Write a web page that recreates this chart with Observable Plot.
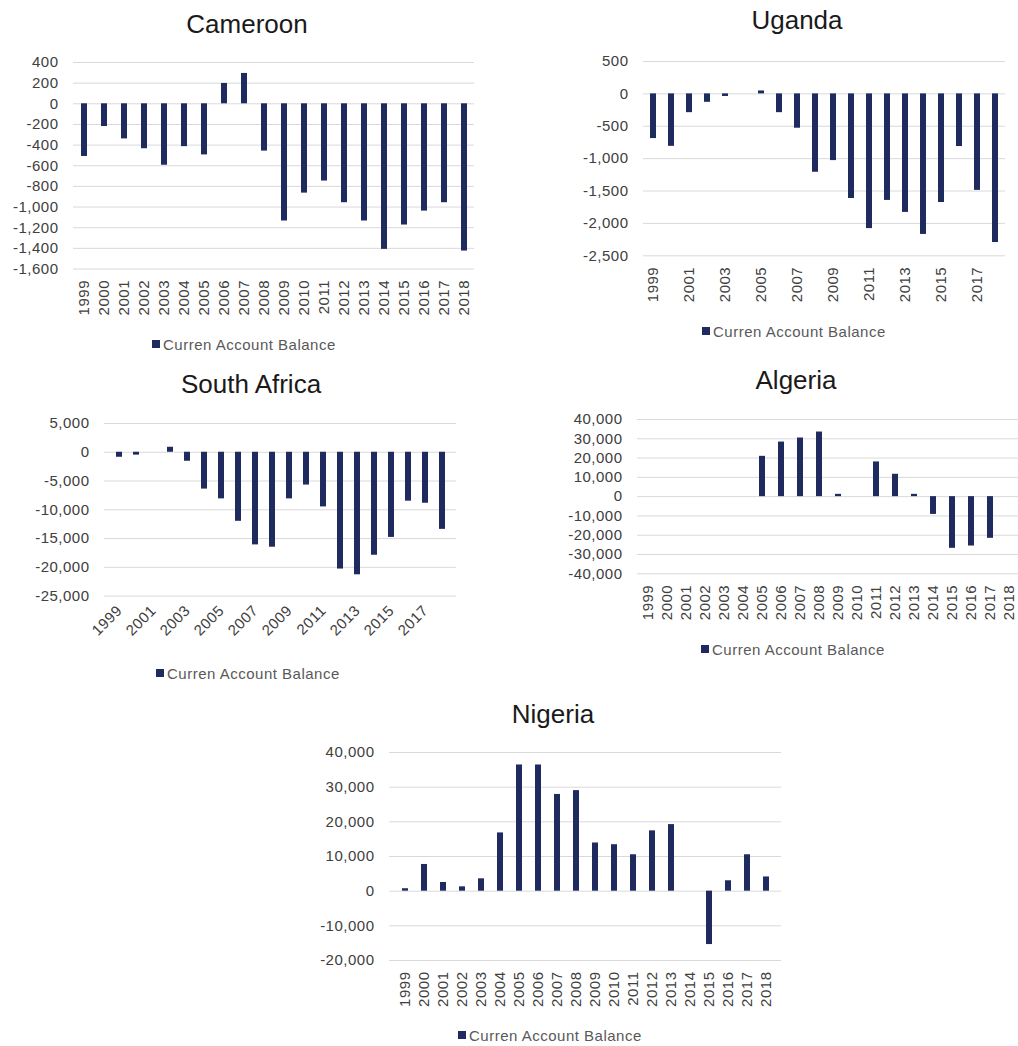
<!DOCTYPE html>
<html><head><meta charset="utf-8">
<script src="https://cdn.jsdelivr.net/npm/d3@7"></script>
<script src="https://cdn.jsdelivr.net/npm/@observablehq/plot@0.6"></script>
<style>
html,body{margin:0;padding:0;background:#fff;}
#root{position:relative;width:1018px;height:1046px;overflow:hidden;background:#fff;font-family:"Liberation Sans",Arial,sans-serif;}
.title{position:absolute;font-size:26px;line-height:26px;color:#1a1a1a;white-space:nowrap;transform:translateX(-50%);}
.legend{position:absolute;display:flex;align-items:center;height:20px;font-size:15px;letter-spacing:0.5px;color:#595959;white-space:nowrap;}
.legend .sw{width:8px;height:8px;background:#1f2a5e;margin-right:3px;}
</style></head><body><div id="root"></div>
<script>
const years = ["1999","2000","2001","2002","2003","2004","2005","2006","2007","2008","2009","2010","2011","2012","2013","2014","2015","2016","2017","2018"];
const oddYears = ["1999","2001","2003","2005","2007","2009","2011","2013","2015","2017"];
const seriesName = "Curren Account Balance";

const cameroon = [-510,-220,-340,-435,-595,-415,-495,197,294,-458,-1135,-865,-748,-958,-1135,-1410,-1174,-1039,-958,-1426];
const uganda = [-690,-810,-290,-130,-40,null,45,-290,-530,-1210,-1030,-1615,-2080,-1645,-1830,-2170,-1677,-813,-1490,-2295];
const southAfrica = [-870,-500,null,870,-1560,-6400,-8100,-12000,-16100,-16500,-8100,-5700,-9500,-20300,-21300,-17900,-14800,-8500,-8860,-13400];
const algeria = [null,null,null,null,null,null,20900,28300,30400,33500,1200,null,18000,11600,1200,-9200,-26800,-25600,-21600,null];
const nigeria = [700,7700,2500,1250,3560,16800,36400,36400,27900,29000,13900,13400,10500,17400,19200,null,-15400,3000,10500,4100];

const cameroonTicks = [400,200,0,-200,-400,-600,-800,-1000,-1200,-1400,-1600];
const ugandaTicks = [500,0,-500,-1000,-1500,-2000,-2500];
const southAfricaTicks = [5000,0,-5000,-10000,-15000,-20000,-25000];
const algeriaTicks = [40000,30000,20000,10000,0,-10000,-20000,-30000,-40000];
const nigeriaTicks = [40000,30000,20000,10000,0,-10000,-20000];

const barColor = "#1f2a5e";
const fmt = v => v.toLocaleString("en-US");
const root = document.getElementById("root");

function drawPanel(cfg) {
  const ML = 80, MR = 10, MT = 10, MB = 70;
  const step = (cfg.x1 - cfg.x0) / years.length;
  const pi = 1 - 6 / step;
  const data = years.map((y, i) => ({year: y, value: cfg.values[i]})).filter(d => d.value != null);
  const chart = Plot.plot({
    width: cfg.x1 - cfg.x0 + ML + MR,
    height: cfg.yBot - cfg.yTop + MT + MB,
    marginLeft: ML, marginRight: MR, marginTop: MT, marginBottom: MB,
    style: {fontFamily: '"Liberation Sans", Arial, sans-serif', fontSize: "15px", letterSpacing: "0.5px", color: "#404040", background: "transparent", overflow: "visible"},
    x: {type: "band", domain: years, paddingInner: pi, paddingOuter: pi / 2, axis: null},
    y: {domain: [d3.min(cfg.yTicks), d3.max(cfg.yTicks)], axis: null},
    marks: [
      Plot.gridY(cfg.yTicks, {stroke: "#d9d9d9", strokeOpacity: 1, strokeWidth: 1}),
      Plot.barY(data, {x: "year", y: "value", fill: barColor}),
      Plot.axisY(cfg.yTicks, {tickSize: 0, tickPadding: 15, tickFormat: fmt, label: null}),
      Plot.axisX(cfg.xTicks, {tickSize: 0, tickPadding: cfg.pad, tickRotate: cfg.rotate, label: null})
    ]
  });
  chart.style.position = "absolute";
  chart.style.left = (cfg.x0 - ML) + "px";
  chart.style.top = (cfg.yTop - MT) + "px";
  root.appendChild(chart);

  const t = document.createElement("div");
  t.className = "title";
  t.textContent = cfg.name;
  t.style.left = cfg.tx + "px";
  t.style.top = (cfg.tb - 22) + "px";
  root.appendChild(t);

  const lg = document.createElement("div");
  lg.className = "legend";
  lg.style.left = (cfg.lx - 11) + "px";
  lg.style.top = (cfg.ly - 10) + "px";
  const sw = document.createElement("div"); sw.className = "sw";
  const tx = document.createElement("span"); tx.textContent = seriesName;
  lg.appendChild(sw); lg.appendChild(tx);
  root.appendChild(lg);
}

drawPanel({name: "Cameroon", values: cameroon, yTicks: cameroonTicks, xTicks: years, rotate: -90, pad: 11,
  x0: 73, x1: 474, yTop: 62, yBot: 268.5, tx: 247, tb: 32.7, lx: 163, ly: 344});
drawPanel({name: "Uganda", values: uganda, yTicks: ugandaTicks, xTicks: oddYears, rotate: -90, pad: 11,
  x0: 643, x1: 1005, yTop: 61, yBot: 255.3, tx: 797, tb: 29.3, lx: 713, ly: 331});
drawPanel({name: "South Africa", values: southAfrica, yTicks: southAfricaTicks, xTicks: oddYears, rotate: -45, pad: 12,
  x0: 104, x1: 456, yTop: 422.7, yBot: 595.3, tx: 251, tb: 393.3, lx: 167, ly: 673});
drawPanel({name: "Algeria", values: algeria, yTicks: algeriaTicks, xTicks: years, rotate: -90, pad: 11,
  x0: 637, x1: 1019, yTop: 419, yBot: 573.3, tx: 796, tb: 389.3, lx: 712, ly: 649});
drawPanel({name: "Nigeria", values: nigeria, yTicks: nigeriaTicks, xTicks: years, rotate: -90, pad: 11,
  x0: 389, x1: 781, yTop: 752, yBot: 960, tx: 553, tb: 723.3, lx: 469, ly: 1035});
</script>
</body></html>
